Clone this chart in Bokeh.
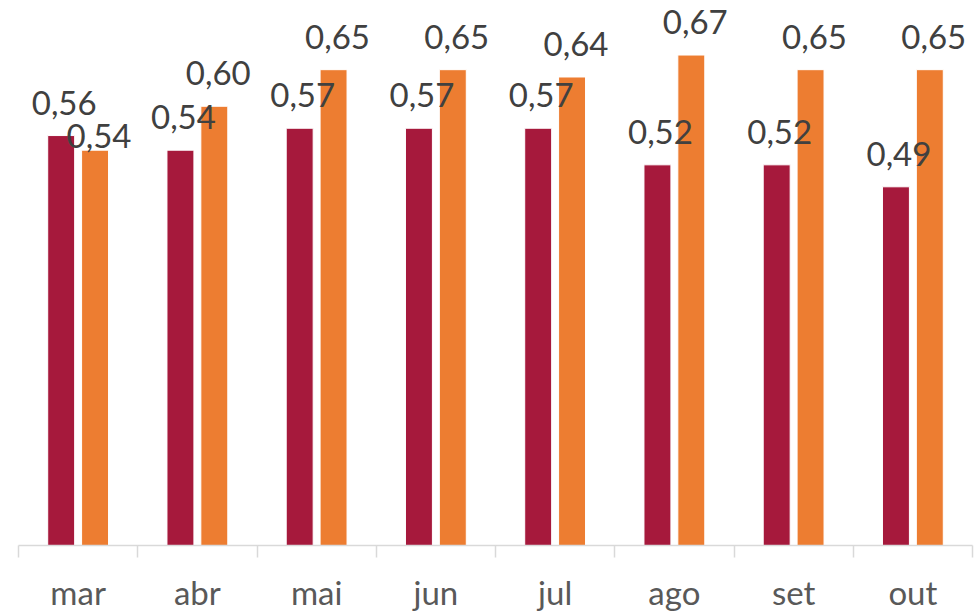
from bokeh.plotting import figure
from bokeh.models import (Range1d, LinearAxis, FixedTicker,
                          CustomJSTickFormatter, ColumnDataSource)
from bokeh.transform import dodge
from bokeh.core.properties import value
from bokeh.embed import file_html
from bokeh.resources import INLINE

# ---- data ----
months = ["mar", "abr", "mai", "jun", "jul", "ago", "set", "out"]
series_a = [0.56, 0.54, 0.57, 0.57, 0.57, 0.52, 0.52, 0.49]
series_b = [0.54, 0.60, 0.65, 0.65, 0.64, 0.67, 0.65, 0.65]

# ---- styles ----
color_a = "#A6193C"
color_b = "#ED7D31"
label_color = "#404040"
axis_text_color = "#595959"
axis_line_color = "#D9D9D9"
font = "Lato"
font_size = "33px"
bar_w = 0.226
shift = 0.142
lift_a = [-33] * len(months)
lift_b = [-14] + [-33] * (len(months) - 1)

n = len(months)


def fmt(v):
    return f"{v:.2f}".replace(".", ",")


# category slot centres (category i occupies [i, i+1] on the x scale)
slot = [i + 0.5 for i in range(n)]

src = ColumnDataSource(dict(
    slot=slot,
    a=series_a,
    b=series_b,
    a_txt=[fmt(v) for v in series_a],
    b_txt=[fmt(v) for v in series_b],
    a_dy=lift_a,
    b_dy=lift_b,
))

p = figure(x_range=Range1d(0, n),
           y_range=Range1d(0, 0.7445),
           width=980, height=614,
           output_backend="svg", toolbar_location=None,
           x_axis_location=None, y_axis_location=None,
           min_border_left=18, min_border_right=8,
           min_border_top=0, min_border_bottom=69)
p.outline_line_color = None
p.xgrid.visible = False
p.ygrid.visible = False
p.background_fill_color = "white"
p.border_fill_color = "white"

p.vbar(x=dodge("slot", -shift), top="a", width=bar_w,
       source=src, fill_color=color_a, line_color="white", line_width=1)
p.vbar(x=dodge("slot", shift), top="b", width=bar_w,
       source=src, fill_color=color_b, line_color="white", line_width=1)

p.text(x=dodge("slot", -shift), y="a", text="a_txt",
       source=src, x_offset=3, y_offset="a_dy",
       text_align="center", text_baseline="alphabetic",
       text_font=value(font), text_font_size=font_size, text_color=label_color)
p.text(x=dodge("slot", shift), y="b", text="b_txt",
       source=src, x_offset=4, y_offset="b_dy",
       text_align="center", text_baseline="alphabetic",
       text_font=value(font), text_font_size=font_size, text_color=label_color)

xaxis = LinearAxis(
    ticker=FixedTicker(ticks=slot, minor_ticks=list(range(n + 1))),
    formatter=CustomJSTickFormatter(args=dict(labels=months),
                                    code="return labels[Math.floor(tick)];"),
    axis_line_color=axis_line_color, axis_line_width=1.5,
    major_tick_line_color=None, major_tick_in=0, major_tick_out=0,
    minor_tick_line_color=axis_line_color, minor_tick_line_width=1.5,
    minor_tick_in=0, minor_tick_out=12,
    major_label_standoff=14,
    major_label_text_font=font, major_label_text_font_size=font_size,
    major_label_text_color=axis_text_color,
)
p.add_layout(xaxis, "below")

open("out.html", "w").write(file_html(p, INLINE))
